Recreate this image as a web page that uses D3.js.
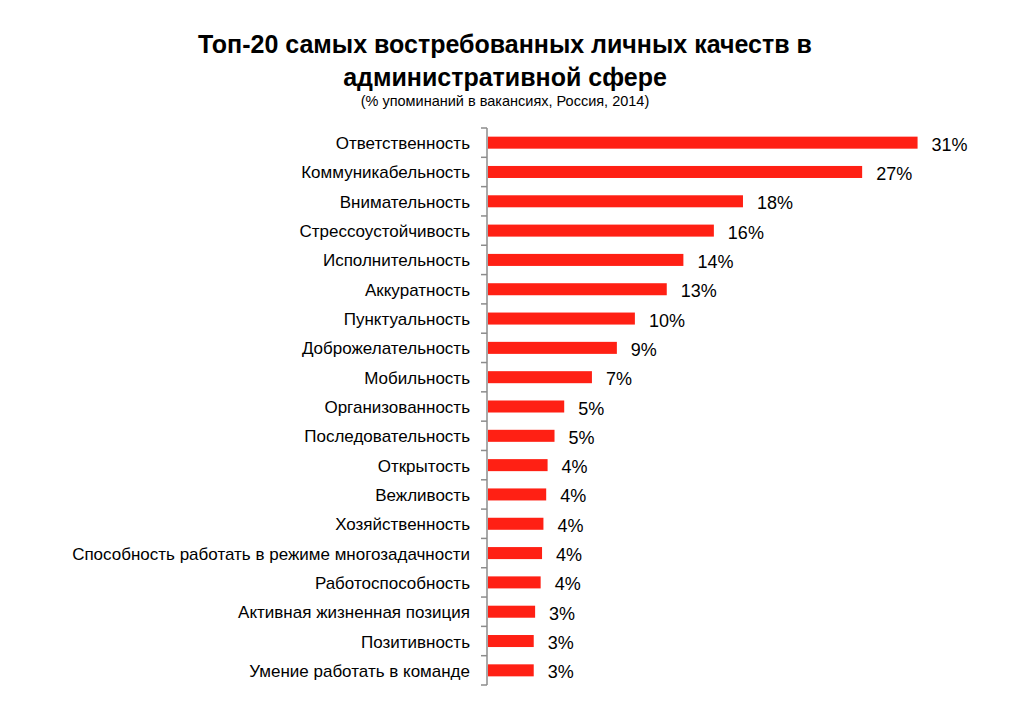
<!DOCTYPE html>
<html>
<head>
<meta charset="utf-8">
<script src="https://cdn.jsdelivr.net/npm/d3@7"></script>
<style>
  body { margin: 0; background: #fff; }
  text { font-family: "Liberation Sans", Arial, sans-serif; fill: #000; }
</style>
</head>
<body>
<div id="chart"></div>
<script>
// categories, top to bottom
var categories = [
  "Ответственность",
  "Коммуникабельность",
  "Внимательность",
  "Стрессоустойчивость",
  "Исполнительность",
  "Аккуратность",
  "Пунктуальность",
  "Доброжелательность",
  "Мобильность",
  "Организованность",
  "Последовательность",
  "Открытость",
  "Вежливость",
  "Хозяйственность",
  "Способность работать в режиме многозадачности",
  "Работоспособность",
  "Активная жизненная позиция",
  "Позитивность",
  "Умение работать в команде"
];

// share of vacancies, %
var values = [31, 27, 18.4, 16.3, 14.1, 12.9, 10.6, 9.3, 7.5, 5.5, 4.8, 4.3, 4.2, 4.0, 3.9, 3.8, 3.4, 3.3, 3.3];

// labels as printed next to the bars
var valueLabels = ["31%", "27%", "18%", "16%", "14%", "13%", "10%", "9%", "7%", "5%", "5%",
                   "4%", "4%", "4%", "4%", "4%", "3%", "3%", "3%"];

var titleLines = ["Топ-20 самых востребованных личных качеств в", "административной сфере"];
var subtitle = "(% упоминаний в вакансиях, Россия, 2014)";

var W = 1011, H = 722;
var margin = {top: 128, left: 488, bottom: 37};
var plotW = 485, plotH = H - margin.top - margin.bottom;

var svg = d3.select("#chart")
  .append("svg")
    .attr("width", W)
    .attr("height", H);

// title
svg.selectAll("text.title")
  .data(titleLines)
  .enter().append("text")
    .attr("class", "title")
    .attr("x", 505)
    .attr("y", function(d, i) { return 53 + i * 33; })
    .attr("text-anchor", "middle")
    .style("font-size", "25px")
    .style("font-weight", "bold")
    .text(function(d) { return d; });

svg.append("text")
  .attr("x", 505)
  .attr("y", 106)
  .attr("text-anchor", "middle")
  .style("font-size", "14.5px")
  .text(subtitle);

var g = svg.append("g")
  .attr("transform", "translate(" + margin.left + "," + margin.top + ")");

var x = d3.scaleLinear()
  .domain([0, 35])
  .range([0, plotW]);

var y = d3.scaleBand()
  .domain(categories)
  .range([0, plotH])
  .paddingInner(0.59)
  .paddingOuter(0.295);

var step = y.step();

// bars
g.selectAll("rect.bar")
  .data(values)
  .enter().append("rect")
    .attr("class", "bar")
    .attr("x", x(0))
    .attr("y", function(d, i) { return y(categories[i]); })
    .attr("width", function(d) { return x(d); })
    .attr("height", y.bandwidth())
    .attr("fill", "#ff2014");

// value labels
g.selectAll("text.val")
  .data(values)
  .enter().append("text")
    .attr("class", "val")
    .attr("x", function(d) { return x(d) + 14; })
    .attr("y", function(d, i) { return y(categories[i]) + y.bandwidth() / 2 + 2; })
    .attr("dominant-baseline", "central")
    .style("font-size", "18px")
    .text(function(d, i) { return valueLabels[i]; });

// category labels
g.selectAll("text.cat")
  .data(categories)
  .enter().append("text")
    .attr("class", "cat")
    .attr("x", -18)
    .attr("y", function(d) { return y(d) + y.bandwidth() / 2 + 1; })
    .attr("text-anchor", "end")
    .attr("dominant-baseline", "central")
    .style("font-size", "17px")
    .text(function(d) { return d; });

// category axis: line plus ticks between categories (Excel style)
var axis = g.append("g").attr("class", "axis");
axis.append("line")
  .attr("x1", -1).attr("x2", -1)
  .attr("y1", 0).attr("y2", plotH)
  .attr("stroke", "#8c8c8c")
  .attr("stroke-width", 1.5);

axis.selectAll("line.tick")
  .data(d3.range(categories.length + 1))
  .enter().append("line")
    .attr("class", "tick")
    .attr("x1", -7).attr("x2", -1)
    .attr("y1", function(i) { return i * step; })
    .attr("y2", function(i) { return i * step; })
    .attr("stroke", "#8c8c8c")
    .attr("stroke-width", 1.5);
</script>
</body>
</html>
